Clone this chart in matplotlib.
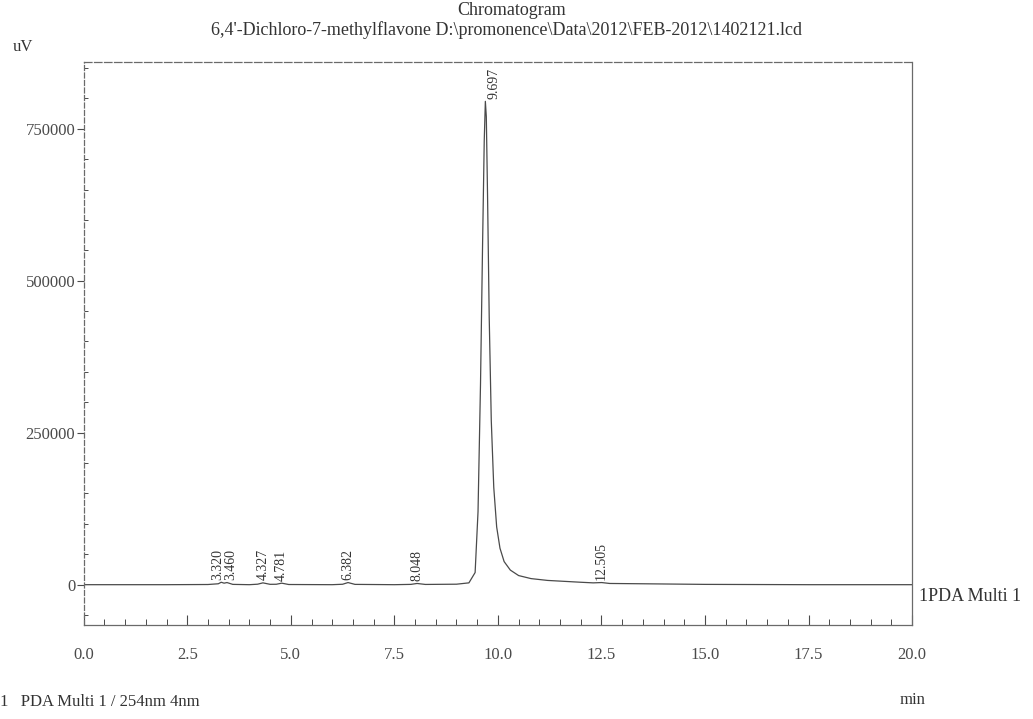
import matplotlib
matplotlib.use("Agg")
from matplotlib import pyplot as plt
from matplotlib.ticker import MultipleLocator
import numpy as np

# retention time (min) and detector signal (uV)
time_min = [0.0, 1.0, 2.0, 3.0, 3.25, 3.32, 3.39, 3.46, 3.6, 4.0, 4.2, 4.327,
            4.5, 4.65, 4.781, 4.95, 6.0, 6.25, 6.382, 6.55, 7.5, 7.9, 8.048,
            8.25, 9.0, 9.3, 9.45, 9.52, 9.58, 9.63, 9.67, 9.697, 9.72, 9.75,
            9.79, 9.84, 9.9, 9.97, 10.05, 10.15, 10.3, 10.5, 10.8, 11.2, 12.0,
            12.3, 12.505, 12.7, 13.5, 15.0, 17.5, 20.0]
signal_uv = [0, 0, 0, 300, 1500, 4000, 2500, 3500, 500, 0, 800, 3000,
             600, 700, 2500, 300, 0, 700, 3500, 500, 0, 500, 2000,
             400, 800, 3000, 20000, 120000, 330000, 560000, 730000, 795000, 770000, 640000,
             440000, 270000, 160000, 95000, 60000, 38000, 24000, 15000, 10000, 7000, 4000,
             3000, 3500, 2000, 1500, 500, 0, 0]

peak_times = [3.320, 3.460, 4.327, 4.781, 6.382, 8.048, 9.697, 12.505]
peak_labels = ["3.320", "3.460", "4.327", "4.781", "6.382", "8.048", "9.697", "12.505"]
peak_heights = [4000, 3500, 3000, 2500, 3500, 2000, 795000, 3500]
# small nudges so the two crowded labels near 3.4 min stay readable
label_shift = [-0.09, 0.09, 0, 0, 0, 0, 0.22, 0]

plt.rcParams['font.family'] = ['Liberation Serif', 'DejaVu Serif']
ink = '#4a4a4a'

fig = plt.figure(figsize=(10.33, 7.19), dpi=100)
ax = fig.add_axes([0.081, 0.131, 0.802, 0.783])

ax.plot(time_min, signal_uv, color=ink, linewidth=0.9)

for t, lab, h, dx in zip(peak_times, peak_labels, peak_heights, label_shift):
	if h > 100000:
		# tall peak: label hangs from the top of the frame
		ax.text(t + dx, 850000, lab, rotation=90, ha='center', va='top',
			fontsize=10, color='#333333')
	else:
		ax.text(t + dx, h + 4000, lab, rotation=90, ha='center', va='bottom',
			fontsize=10, color='#333333')

ax.set_xlim(0, 20)
ax.set_ylim(-66000, 860000)
ax.set_xticks([0, 2.5, 5, 7.5, 10, 12.5, 15, 17.5, 20])
ax.set_xticklabels(["0.0", "2.5", "5.0", "7.5", "10.0", "12.5", "15.0", "17.5", "20.0"])
ax.set_yticks([0, 250000, 500000, 750000])
ax.xaxis.set_minor_locator(MultipleLocator(0.5))
ax.yaxis.set_minor_locator(MultipleLocator(50000))
ax.tick_params(axis='x', which='major', direction='in', length=7, pad=16,
	labelsize=12, colors=ink, width=0.8)
ax.tick_params(axis='x', which='minor', direction='in', length=4, colors=ink, width=0.7)
ax.tick_params(axis='y', which='major', direction='out', length=5, pad=1,
	labelsize=12, colors=ink, width=0.8)
ax.tick_params(axis='y', which='minor', direction='in', length=3, colors=ink, width=0.7)
for s in ax.spines.values():
	s.set_color('#6a6a6a')
	s.set_linewidth(0.9)
ax.spines['top'].set_linestyle((0, (6, 2)))
ax.spines['left'].set_linestyle((0, (4, 2)))

fig.text(0.495, 0.997, "Chromatogram", ha='center', va='top', fontsize=13, color='#333333')
fig.text(0.49, 0.97, "6,4'-Dichloro-7-methylflavone D:\\promonence\\Data\\2012\\FEB-2012\\1402121.lcd",
	ha='center', va='top', fontsize=13, color='#333333')
fig.text(0.012, 0.935, "uV", ha='left', va='center', fontsize=12, color='#333333')
fig.text(0.89, 0.17, "1PDA Multi 1", ha='left', va='center', fontsize=13, color='#333333')
fig.text(0.883, 0.015, "min", ha='center', va='bottom', fontsize=12, color='#333333')
fig.text(0.0, 0.012, "1   PDA Multi 1 / 254nm 4nm", ha='left', va='bottom', fontsize=12, color='#333333')

fig.savefig('out.png', dpi=100)
